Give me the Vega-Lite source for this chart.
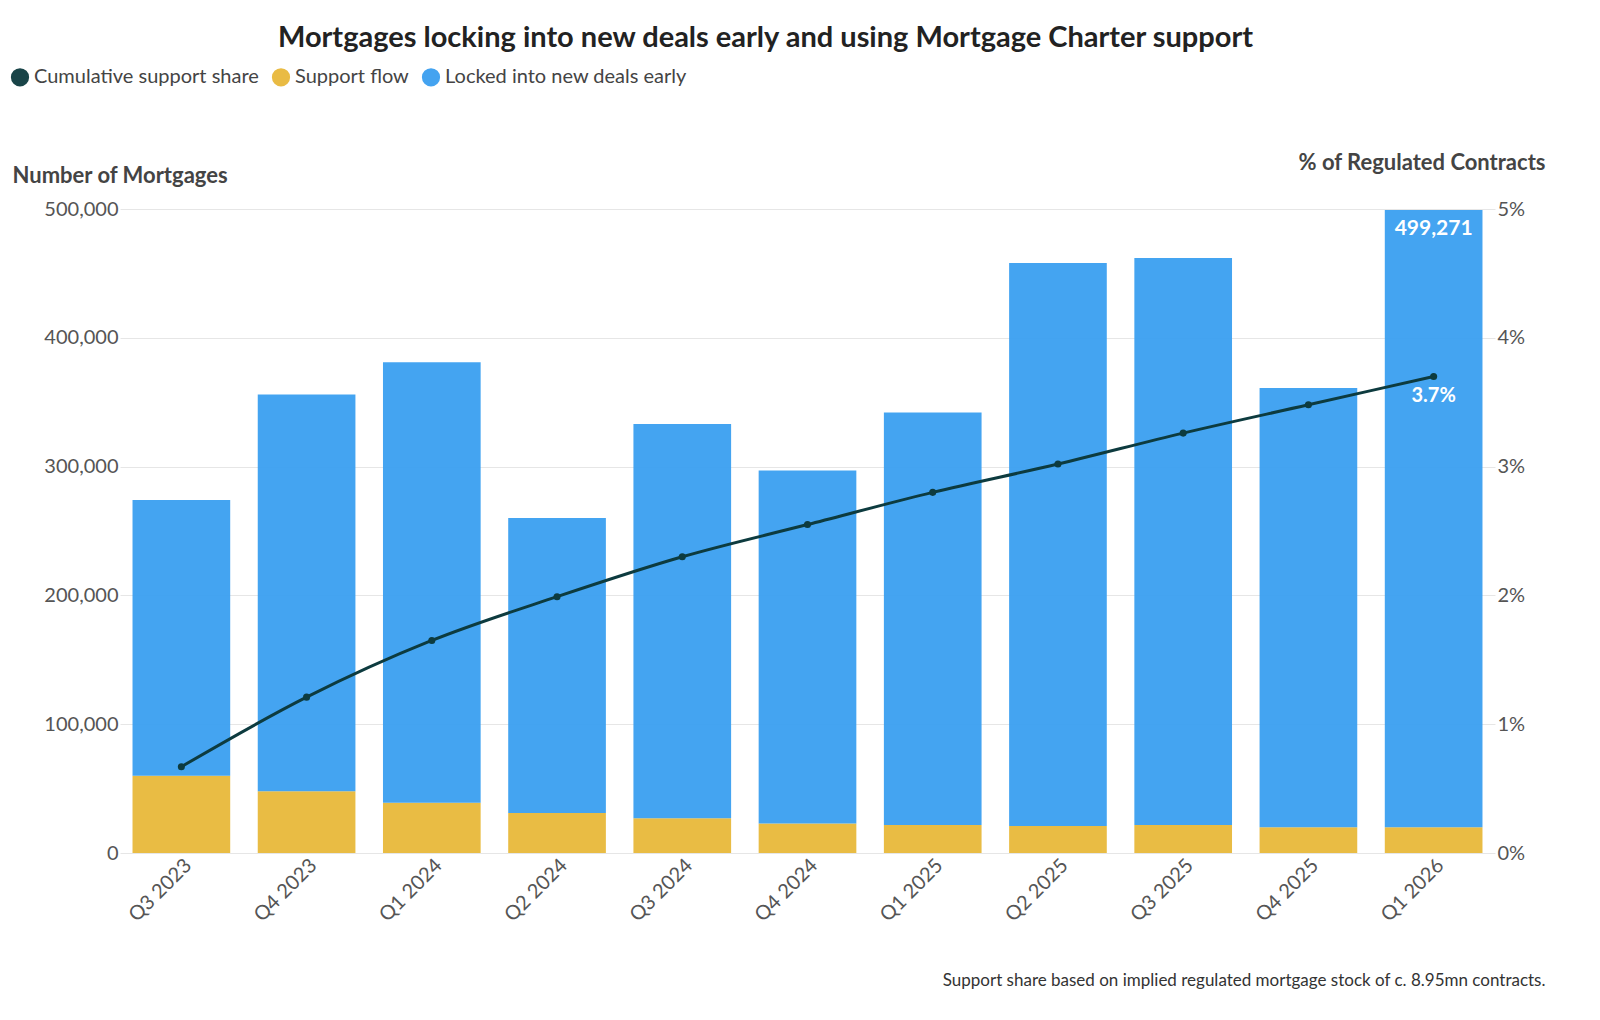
{
  "$schema": "https://vega.github.io/schema/vega-lite/v6.json",
  "width": 1375,
  "height": 644,
  "autosize": {"type": "none"},
  "padding": {"left": 120, "top": 209, "right": 105, "bottom": 167},
  "background": "white",
  "title": {"text": "Mortgages locking into new deals early and using Mortgage Charter support", "fontSize": 29, "font": "Lato", "fontWeight": "bold", "color": "#222", "anchor": "middle", "offset": 14, "dx": -42},
  "config": {
    "font": "Lato",
    "view": {"stroke": null},
    "axis": {"labelFontSize": 20, "labelColor": "#555", "titleFontSize": 22, "titleColor": "#444", "titleFontWeight": "bold", "domain": false, "ticks": false, "gridColor": "#e6e6e6"}
  },
  "data": {"values": [
    {"quarter": "Q3 2023", "Support flow": 60000, "Locked into new deals early": 214000, "share": 0.0067},
    {"quarter": "Q4 2023", "Support flow": 48000, "Locked into new deals early": 308000, "share": 0.0121},
    {"quarter": "Q1 2024", "Support flow": 39000, "Locked into new deals early": 342000, "share": 0.0165},
    {"quarter": "Q2 2024", "Support flow": 31000, "Locked into new deals early": 229000, "share": 0.0199},
    {"quarter": "Q3 2024", "Support flow": 27000, "Locked into new deals early": 306000, "share": 0.0230},
    {"quarter": "Q4 2024", "Support flow": 23000, "Locked into new deals early": 274000, "share": 0.0255},
    {"quarter": "Q1 2025", "Support flow": 21700, "Locked into new deals early": 320300, "share": 0.0280},
    {"quarter": "Q2 2025", "Support flow": 21000, "Locked into new deals early": 437000, "share": 0.0302},
    {"quarter": "Q3 2025", "Support flow": 21700, "Locked into new deals early": 440300, "share": 0.0326},
    {"quarter": "Q4 2025", "Support flow": 20000, "Locked into new deals early": 341000, "share": 0.0348},
    {"quarter": "Q1 2026", "Support flow": 20000, "Locked into new deals early": 479271, "share": 0.0370, "total": 499271}
  ]},
  "encoding": {
    "x": {"field": "quarter", "type": "nominal", "sort": null, "scale": {"paddingInner": 0.22, "paddingOuter": 0.1},
      "axis": {"labelAngle": -45, "labelFontSize": 20, "grid": false, "title": "Support share based on implied regulated mortgage stock of c. 8.95mn contracts.", "titleFontSize": 17, "titleFontWeight": "normal", "titleColor": "#333", "titleAlign": "right", "titleAnchor": null, "titleX": 1425, "titleY": 136, "titleBaseline": "bottom"}}
  },
  "layer": [
    {
      "layer": [
        {
          "transform": [
            {"fold": ["Support flow", "Locked into new deals early"], "as": ["series", "value"]},
            {"calculate": "datum.series == 'Support flow' ? 0 : 1", "as": "ord"}
          ],
          "mark": {"type": "bar", "opacity": 0.95},
          "encoding": {
            "y": {"field": "value", "type": "quantitative", "stack": "zero", "scale": {"domain": [0, 500000]},
              "axis": {"format": ",d", "tickCount": 5, "title": "Number of Mortgages", "titleAngle": 0, "titleAlign": "left", "titleBaseline": "bottom", "titleX": -108, "titleY": -22}},
            "order": {"field": "ord"},
            "color": {"field": "series", "type": "nominal",
              "scale": {"domain": ["Cumulative support share", "Support flow", "Locked into new deals early"], "range": ["#0d3b3f", "#e8b83a", "#3a9ff0"]},
              "legend": {"title": null, "orient": "none", "direction": "horizontal", "legendX": -110, "legendY": -142, "symbolType": "circle", "symbolSize": 280, "labelFontSize": 20, "labelColor": "#444", "labelLimit": 0, "columnPadding": 10}}
          }
        },
        {
          "transform": [{"filter": "datum.total"}],
          "mark": {"type": "text", "baseline": "top", "dy": 8, "color": "white", "fontWeight": "bold", "fontSize": 21},
          "encoding": {
            "y": {"field": "total", "type": "quantitative"},
            "text": {"field": "total", "type": "quantitative", "format": ","}
          }
        }
      ]
    },
    {
      "layer": [
        {
          "mark": {"type": "line", "interpolate": "monotone", "strokeWidth": 3, "point": {"size": 50, "filled": true}},
          "encoding": {
            "y": {"field": "share", "type": "quantitative", "scale": {"domain": [0, 0.05]},
              "axis": {"orient": "right", "format": ".0%", "tickCount": 5, "grid": false, "title": "% of Regulated Contracts", "titleAngle": 0, "titleAlign": "right", "titleBaseline": "bottom", "titleX": 50, "titleY": -35}},
            "color": {"datum": "Cumulative support share"}
          }
        },
        {
          "transform": [{"filter": "datum.total"}],
          "mark": {"type": "text", "baseline": "top", "dy": 10, "color": "white", "fontWeight": "bold", "fontSize": 20},
          "encoding": {
            "y": {"field": "share", "type": "quantitative"},
            "text": {"field": "share", "type": "quantitative", "format": ".1%"}
          }
        }
      ]
    }
  ],
  "resolve": {"scale": {"y": "independent"}}
}
